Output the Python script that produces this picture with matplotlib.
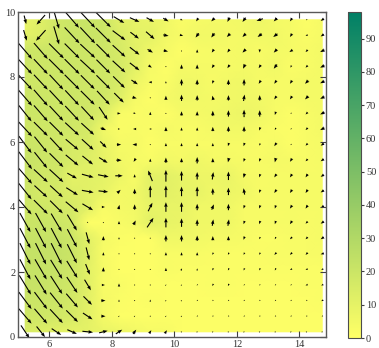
import numpy as np
import matplotlib
matplotlib.use('Agg')
import matplotlib.pyplot as plt

plt.rcParams['font.family'] = ['Liberation Serif', 'DejaVu Serif']

x_vals = [5.23, 5.73, 6.23, 6.73, 7.23, 7.73, 8.23, 8.73, 9.23, 9.73,
          10.23, 10.73, 11.23, 11.73, 12.23, 12.73, 13.23, 13.73, 14.23, 14.73]
y_vals = [0.16, 0.64, 1.12, 1.60, 2.08, 2.56, 3.04, 3.52, 4.00, 4.48, 4.96,
          5.44, 5.92, 6.40, 6.88, 7.36, 7.84, 8.32, 8.80, 9.28, 9.76]

# rows listed from the top row (y = 9.76) down to the bottom row (y = 0.16)
U_rows = [
    [2, -8, 5, 13, 14, 14, 10, 9, 7, 5, 2, -2, -3, -2, -3, -6, -3, -2, -1, -3],
    [3, -9, 5, 14, 14, 14, 12, 8, 8, 5, 3, -3, -3, -3, -3, -4, -4, -2, -2, -3],
    [13, 13, 14, 14, 14, 13, 12, 9, 5, 4, 1, 0, -2, -2, -3, 0, -3, -3, -2, -4],
    [13, 13, 14, 14, 14, 13, 12, 9, 3, 1, 0, 0, -2, -2, -2, -2, -3, -1, -2, -4],
    [13, 13, 13, 14, 13, 13, 11, 6, -3, 0, 0, 0, -1, 0, 0, -2, -2, -2, -3, -4],
    [13, 13, 13, 13, 13, 12, 9, 4, 1, 0, 0, 0, -1, 0, 1, 0, -2, -2, -3, -4],
    [12, 13, 13, 13, 12, 8, 3, 2, 0, 0, 0, 0, 0, 0, 0, 0, -1, -1, -2, -4],
    [13, 13, 13, 13, 12, 5, 2, -3, -2, 0, 0, 0, 0, 0, 0, -1, -1, -1, -2, -4],
    [12, 12, 12, 12, 11, 6, 4, -4, -1, 0, 0, 0, 0, -1, -1, -1, -2, -1, -2, -3],
    [13, 12, 13, 12, 10, 8, 5, -2, 0, 0, 0, 0, 0, -1, -1, -1, -1, -2, -2, -3],
    [13, 13, 13, 9, 11, 10, 7, 0, -4, 0, 0, 0, 1, 0, -1, -1, -2, -2, -2, -3],
    [12, 12, 12, 11, 11, 9, 3, 0, 0, 0, 0, 0, 0, 0, -1, -1, -2, -2, -2, -3],
    [12, 13, 12, 12, 10, 3, 1, 0, 4, 0, 0, 0, 2, 0, -1, -1, -1, -2, -2, -3],
    [10, 10, 10, 9, 1, 0, 0, 2, 6, 0, 0, 0, 1, 1, -1, -1, -1, -2, -2, -3],
    [10, 10, 10, 9, 3, 0, 0, 0, 0, 0, 0, 0, 0, 0, -1, -1, -1, -2, -2, -3],
    [10, 10, 10, 9, 3, 0, 0, 0, 0, 0, 0, 0, -1, -1, -1, -1, -2, -2, -2, -3],
    [10, 11, 11, 10, 4, 0, 0, 0, 0, 0, 1, 0, -1, -1, -1, -1, -1, -2, -2, -2],
    [11, 11, 11, 10, 6, 3, 0, 0, 0, 1, 1, -1, -1, -1, -1, -1, -1, -1, -2, -2],
    [12, 12, 12, 11, 8, 4, 0, 0, 0, 1, 1, -1, -1, -1, -1, -1, -1, -1, -1, -2],
    [12, 12, 12, 11, 9, 4, 1, 1, 0, 1, 1, -1, -1, -1, -1, -1, -1, -1, -1, -1],
    [8, 8, 9, 9, 10, 8, 6, 3, 2, 2, 1, 1, 1, 1, 1, 1, 1, 1, 1, 1],
]
V_rows = [
    [-8, -9, -17, -15, -15, -14, -6, -4, -4, -3, -1, -3, -3, -4, -4, -2, -3, -3, -1, -2],
    [-10, -10, -17, -15, -15, -14, -9, -6, -7, -1, -1, -4, -4, -3, -3, -3, -3, -3, -1, -2],
    [-15, -15, -14, -14, -13, -13, -11, -7, -3, -1, 0, 3, -3, -3, -3, -3, -3, -2, -2, -2],
    [-14, -14, -14, -14, -13, -13, -11, -7, -2, 0, 4, 4, -3, -3, -4, -3, -4, -2, -2, -2],
    [-14, -14, -14, -14, -13, -13, -11, -4, 0, 2, 6, 5, -3, 5, 6, -3, -3, -3, -3, -2],
    [-15, -15, -14, -14, -13, -13, -9, -1, 0, 4, 6, 5, 4, 5, 6, 5, -3, -3, -3, -2],
    [-15, -15, -14, -14, -13, -12, 0, -1, 3, -1, 4, 4, 5, 6, 7, 6, -3, -1, -2, -2],
    [-14, -13, -13, -12, -11, -2, 0, 0, 0, 4, 3, 3, 4, 5, 5, -3, -2, -1, -2, -2],
    [-16, -15, -13, -10, -10, -6, 0, 0, 0, 3, 3, 3, 3, -3, -3, -2, -3, -1, -2, -2],
    [-17, -15, -13, -10, -8, -5, 0, -3, 3, 5, 4, 6, 4, -4, -3, -3, -4, -3, -2, -2],
    [-15, -12, -12, -5, -3, -2, 0, 3, 10, 11, 9, 7, 7, 8, -4, -3, -3, -3, -3, -2],
    [-15, -11, -11, -7, -2, -1, 3, 5, 11, 11, 9, 9, 6, 7, 6, -3, -3, -3, -3, -2],
    [-14, -13, -12, -10, -6, 0, 4, 5, 8, 9, 9, 6, 5, 6, -3, -3, -3, -3, -3, -2],
    [-18, -18, -17, -15, -1, 1, 3, 4, 9, 9, 8, 6, 6, 6, -3, -3, -3, -3, -2, -2],
    [-19, -19, -19, -17, -11, 4, 2, 1, 1, 6, 6, 5, 4, 4, -3, -2, -2, -2, -2, -2],
    [-20, -20, -20, -18, -12, 3, 1, 1, 1, 3, 3, 3, -2, -2, -2, -2, -2, -2, -2, -1],
    [-19, -19, -18, -16, -10, 4, 1, 1, 1, 3, 2, 2, -2, -2, -2, -2, -2, -1, -1, -1],
    [-18, -18, -17, -15, -10, 0, 3, 1, 1, 1, 1, -1, -2, -2, -1, -1, -1, -1, -1, -1],
    [-16, -16, -15, -13, -8, 0, 2, 1, 2, 1, 1, -1, -1, -1, -1, -1, -1, -1, -1, -1],
    [-14, -14, -13, -11, -6, 0, 1, 1, 1, 1, 1, -1, -1, -1, -1, -1, -1, -1, -1, -1],
    [-12, -10, -6, -4, -1, 2, 4, 4, 3, 3, 1, 1, 1, 1, 1, 1, 1, 1, 1, 1],
]
cbar_ticks = [0, 10, 20, 30, 40, 50, 60, 70, 80, 90]
x_ticks = [6, 8, 10, 12, 14]
y_ticks = [0, 2, 4, 6, 8, 10]

U = np.flipud(np.array(U_rows, dtype=float))
V = np.flipud(np.array(V_rows, dtype=float))
X, Y = np.meshgrid(x_vals, y_vals)
speed = np.hypot(U, V)

W, H = 379, 348
fig = plt.figure(figsize=(W / 100, H / 100), dpi=100)
fig.patch.set_facecolor('white')
ax = fig.add_axes([18 / W, 11 / H, 308 / W, 325 / H])
mesh = ax.pcolormesh(X, Y, speed, shading='gouraud', cmap='summer_r',
                     vmin=0, vmax=98)
ax.quiver(X, Y, U, V, pivot='middle', scale=290, scale_units='width',
          color='k', width=0.0036, headwidth=3.2, headlength=4.2,
          headaxislength=3.8)
ax.set_xlim(5.0, 14.85)
ax.set_ylim(0, 10)
ax.set_xticks(x_ticks)
ax.set_yticks(y_ticks)
ax.tick_params(direction='in', top=True, right=True, length=4, width=0.8,
               labelsize=7.5, pad=2, colors='0.25', labelcolor='0.2')
for s in ax.spines.values():
    s.set_color('0.35')
    s.set_linewidth(1.0)

cax = fig.add_axes([348 / W, 10 / H, 13 / W, 326 / H])
cb = fig.colorbar(mesh, cax=cax, ticks=cbar_ticks)
cb.ax.tick_params(labelsize=7.5, length=2.5, width=0.8, pad=1,
                  colors='0.25', labelcolor='0.2')
cb.outline.set_edgecolor('0.3')

fig.savefig('out.png', dpi=100)
